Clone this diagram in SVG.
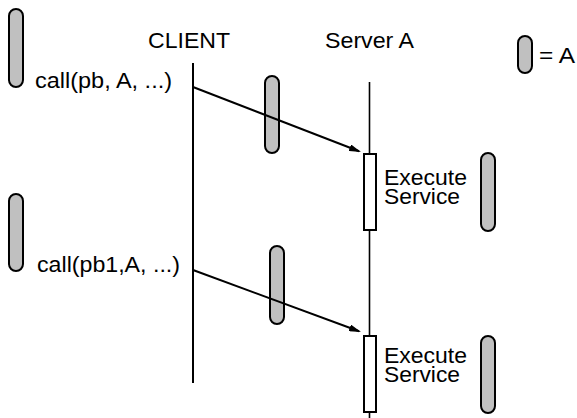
<svg xmlns="http://www.w3.org/2000/svg" width="577" height="418" viewBox="0 0 577 418">
<style>
.pill{fill:#c0c0c0;stroke:#000;stroke-width:2}
.exec{fill:#fff;stroke:#000;stroke-width:2}
.life{stroke:#000;fill:none}
.msg{stroke:#000;stroke-width:2;fill:none;marker-end:url(#ah)}
text{font-family:"Liberation Sans",Arial,Helvetica,sans-serif;font-size:22px;fill:#000}
</style>
<defs>
<marker id="ah" markerUnits="userSpaceOnUse" viewBox="0 0 12 7" markerWidth="12" markerHeight="7" refX="10" refY="3.5" orient="auto">
<path d="M0,0 L12,3.5 L0,7 z" fill="#000"/>
</marker>
</defs>
<rect width="577" height="418" fill="#fff"/>
<g id="client">
<text x="148" y="48" textLength="82" lengthAdjust="spacingAndGlyphs">CLIENT</text>
<line class="life" x1="193" y1="63" x2="193" y2="383" stroke-width="2"/>
</g>
<g id="serverA">
<text x="325" y="48" textLength="89" lengthAdjust="spacingAndGlyphs">Server A</text>
<line class="life" x1="369.5" y1="82" x2="369.5" y2="418" stroke-width="1.6"/>
</g>
<g id="exec1">
<rect class="exec" x="364" y="154" width="12" height="76"/>
<text x="384" y="185" textLength="83" lengthAdjust="spacingAndGlyphs">Execute</text>
<text x="384" y="204" textLength="76" lengthAdjust="spacingAndGlyphs">Service</text>
</g>
<g id="exec2">
<rect class="exec" x="364" y="336" width="12" height="76"/>
<text x="384" y="363" textLength="83" lengthAdjust="spacingAndGlyphs">Execute</text>
<text x="384" y="382" textLength="76" lengthAdjust="spacingAndGlyphs">Service</text>
</g>
<g id="tokens">
<rect class="pill" x="9" y="9" width="14" height="78" rx="7"/>
<rect class="pill" x="9" y="194" width="14" height="77" rx="7"/>
<rect class="pill" x="265" y="76" width="14" height="77" rx="7"/>
<rect class="pill" x="270" y="246" width="14" height="78" rx="7"/>
<rect class="pill" x="481" y="153" width="14" height="78" rx="7"/>
<rect class="pill" x="481" y="336" width="14" height="77" rx="7"/>
</g>
<g id="call1">
<text x="35" y="88" textLength="137" lengthAdjust="spacingAndGlyphs">call(pb, A, ...)</text>
</g>
<g id="call2">
<text x="37" y="272" textLength="143" lengthAdjust="spacingAndGlyphs">call(pb1,A, ...)</text>
</g>
<g id="legend">
<rect class="pill" x="518" y="36" width="14" height="37" rx="7"/>
<text x="539" y="63" textLength="36" lengthAdjust="spacingAndGlyphs">= A</text>
</g>
<g id="connectors">
<line class="msg" x1="193" y1="87" x2="359.1" y2="151.3"/>
<line class="msg" x1="193" y1="270" x2="359.1" y2="331.3"/>
</g>
</svg>
